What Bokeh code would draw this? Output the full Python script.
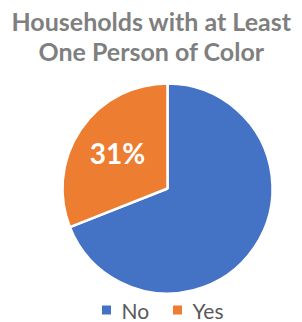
import math
from bokeh.plotting import figure
from bokeh.models import Range1d, ColumnDataSource
from bokeh.core.properties import value
from bokeh.embed import file_html
from bokeh.resources import INLINE

title_lines = ["Households with at Least", "One Person of Color"]
categories = ["No", "Yes"]
values = [69, 31]
colors = ["#4472C4", "#ED7D31"]

W, H = 302, 322
p = figure(width=W, height=H, output_backend="svg", toolbar_location=None,
           x_range=Range1d(0, W), y_range=Range1d(0, H), min_border=0)
p.axis.visible = False
p.grid.visible = False
p.outline_line_color = None

# pie (top of figure = picture y 0)
cx, cy, r = 167, H - 188, 105
total = sum(values)
starts, ends = [], []
a = math.pi / 2
for v in values:
    sweep = 2 * math.pi * v / total
    starts.append(a - sweep)
    ends.append(a)
    a -= sweep
src = ColumnDataSource(dict(cat=categories, val=values, color=colors,
                            start=starts, end=ends))
p.wedge(x=cx, y=cy, radius=r, start_angle="start", end_angle="end",
        fill_color="color", line_color="white", line_width=2.5, source=src)

# data label for "Yes"
mid = (starts[1] + ends[1]) / 2
lx = cx + 0.6 * r * math.cos(mid) + 2
ly = cy + 0.6 * r * math.sin(mid)
p.text(x=[lx], y=[ly], text=[f"{values[1]}%"], text_color="white",
       text_font=value("Lato"), text_font_style="bold", text_font_size="28px",
       text_align="center", text_baseline="middle")

# title
p.text(x=[W / 2, W / 2], y=[H - 20, H - 50], text=title_lines,
       text_color="#7F7F7F", text_font=value("Lato"), text_font_style="bold",
       text_font_size="25px", text_align="center", text_baseline="middle")

# legend
sq_x = [106, 177]
p.scatter(x=sq_x, y=[H - 309.5] * 2, marker="square", size=9,
          fill_color=colors, line_color=None)
p.text(x=[x + 15 for x in sq_x], y=[H - 310] * 2, text=categories,
       text_color="#595959", text_font=value("Lato"), text_font_size="21px",
       text_align="left", text_baseline="middle")

open("out.html", "w").write(file_html(p, INLINE))
